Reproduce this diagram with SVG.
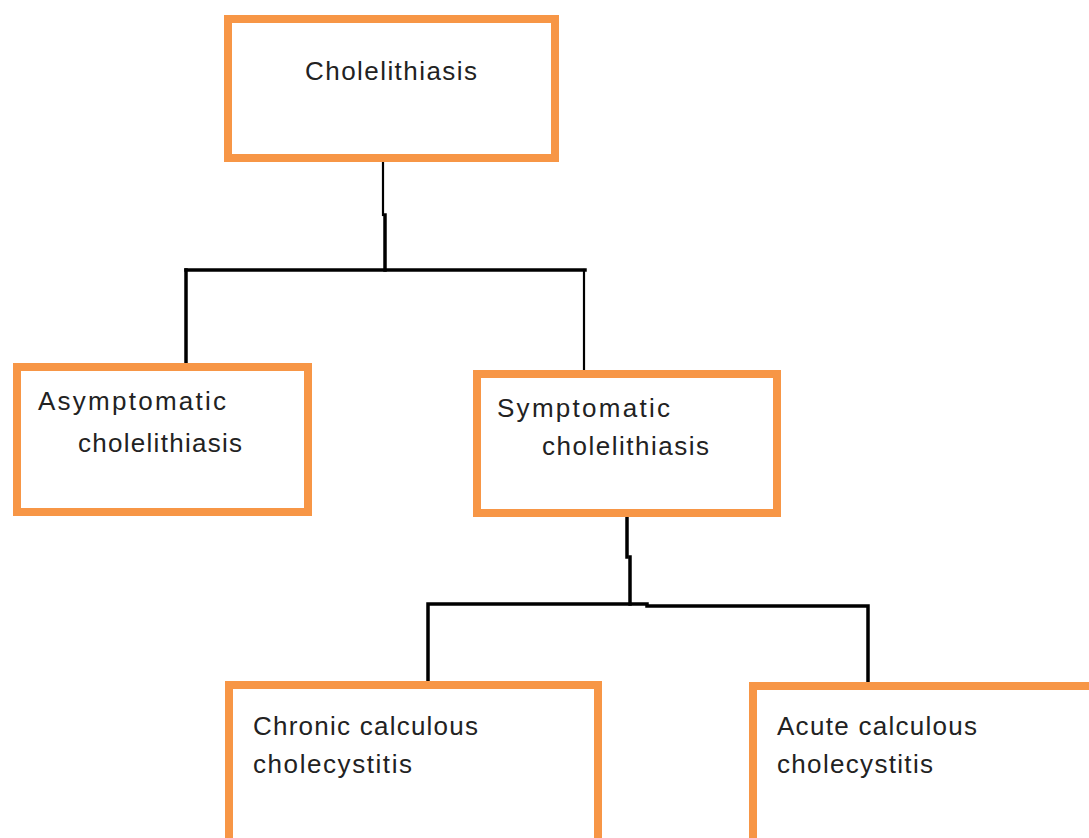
<svg xmlns="http://www.w3.org/2000/svg" width="1089" height="838" viewBox="0 0 1089 838">
<style>
.box{fill:#fff;stroke:#F79646;stroke-width:8}
.t{font-family:"Liberation Sans",Arial,sans-serif;font-size:26px;fill:#222}
.c{fill:none;stroke:#000;stroke-width:3.5;stroke-linecap:square}
.thin{stroke-width:2.2}
</style>
<rect width="1089" height="838" fill="#fff"/>
<g id="connectors">
<path class="c thin" d="M383 161 V215"/>
<path class="c" d="M385 215 V270"/>
<path class="c" d="M186 270 H585"/>
<path class="c" d="M186 270 V364"/>
<path class="c thin" d="M584 270 V371"/>
<path class="c" d="M627 517 V557"/>
<path class="c" d="M630 557 V604"/>
<path class="c" d="M428 684 V604 H647"/>
<path class="c" d="M647 606 H868 V684"/>
</g>
<g id="n-cholelithiasis">
<rect class="box" x="228" y="19" width="327" height="139"/>
<text class="t" x="305" y="80" textLength="172" lengthAdjust="spacing">Cholelithiasis</text>
</g>
<g id="n-asymptomatic">
<rect class="box" x="17" y="367" width="291" height="145"/>
<text class="t" x="38" y="410" textLength="188" lengthAdjust="spacing">Asymptomatic</text>
<text class="t" x="78" y="452" textLength="164" lengthAdjust="spacing">cholelithiasis</text>
</g>
<g id="n-symptomatic">
<rect class="box" x="477" y="374" width="300" height="139"/>
<text class="t" x="497" y="417" textLength="173" lengthAdjust="spacing">Symptomatic</text>
<text class="t" x="542" y="455" textLength="167" lengthAdjust="spacing">cholelithiasis</text>
</g>
<g id="n-chronic">
<rect class="box" x="229" y="685" width="369" height="200"/>
<text class="t" x="253" y="735" textLength="225" lengthAdjust="spacing">Chronic calculous</text>
<text class="t" x="253" y="773" textLength="159" lengthAdjust="spacing">cholecystitis</text>
</g>
<g id="n-acute">
<rect class="box" x="753" y="686" width="400" height="200"/>
<text class="t" x="777" y="735" textLength="200" lengthAdjust="spacing">Acute calculous</text>
<text class="t" x="777" y="773" textLength="156" lengthAdjust="spacing">cholecystitis</text>
</g>
</svg>
